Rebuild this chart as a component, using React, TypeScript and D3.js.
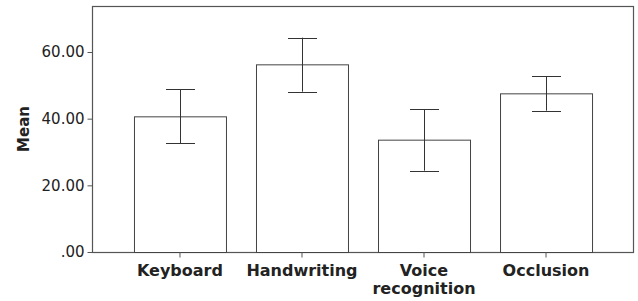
import React, { useEffect, useRef } from 'react';
import * as d3 from 'd3';

const categories = ['Keyboard', 'Handwriting', 'Voice recognition', 'Occlusion'];
const means = [40.7, 56.3, 33.7, 47.6];
const errLow = [32.7, 48.1, 24.4, 42.4];
const errHigh = [48.8, 64.3, 42.8, 52.8];
const yTicks = [0, 20, 40, 60];

const App = () => {
    const ref = useRef<SVGSVGElement>(null);

    const graph = () => {
        const svg = d3.select(ref.current);
        svg.selectAll('*').remove();

        const width = 638, height = 301;
        const margin = { top: 6, right: 4, bottom: 49, left: 92 };
        const plotBottom = height - margin.bottom;

        const x = d3.scaleBand()
            .domain(categories)
            .range([margin.left, width - margin.right])
            .paddingInner(0.246)
            .paddingOuter(0.344);

        const y = d3.scaleLinear()
            .domain([0, 73.8])
            .range([plotBottom, margin.top]);

        const lineColor = '#555';
        const textColor = '#222';

        // frame
        svg.append('rect')
            .attr('x', margin.left + 0.5)
            .attr('y', margin.top + 0.5)
            .attr('width', width - margin.right - margin.left - 1)
            .attr('height', plotBottom - margin.top)
            .attr('fill', 'white')
            .attr('stroke', lineColor)
            .attr('stroke-width', 1.2);

        const data = categories.map((c, i) => ({ c, m: means[i], lo: errLow[i], hi: errHigh[i] }));

        svg.selectAll('rect.bar')
            .data(data)
            .enter()
            .append('rect')
            .attr('class', 'bar')
            .attr('x', d => x(d.c)! + 0.5)
            .attr('y', d => y(d.m) + 0.5)
            .attr('width', x.bandwidth())
            .attr('height', d => plotBottom - y(d.m))
            .attr('fill', 'white')
            .attr('stroke', '#444')
            .attr('stroke-width', 1);

        const cap = 14.5;
        const eb = svg.append('g').attr('stroke', '#333').attr('stroke-width', 1);
        data.forEach(d => {
            const cx = Math.round(x(d.c)! + x.bandwidth() / 2) + 0.5;
            eb.append('line').attr('x1', cx).attr('x2', cx).attr('y1', y(d.hi)).attr('y2', y(d.lo));
            eb.append('line').attr('x1', cx - cap).attr('x2', cx + cap).attr('y1', Math.round(y(d.hi)) + 0.5).attr('y2', Math.round(y(d.hi)) + 0.5);
            eb.append('line').attr('x1', cx - cap).attr('x2', cx + cap).attr('y1', Math.round(y(d.lo)) + 0.5).attr('y2', Math.round(y(d.lo)) + 0.5);
        });

        // y axis
        const yAxis = svg.append('g')
            .attr('transform', `translate(${margin.left + 0.5},0)`)
            .call(d3.axisLeft(y).tickValues(yTicks).tickSize(5).tickPadding(3)
                .tickFormat(v => (+v === 0 ? '.00' : (+v).toFixed(2))));
        yAxis.select('.domain').remove();
        yAxis.selectAll('line').attr('stroke', lineColor);
        yAxis.selectAll('text')
            .style('font-family', 'DejaVu Sans')
            .style('font-size', '15px')
            .attr('fill', textColor);

        // x axis
        const xAxis = svg.append('g')
            .attr('transform', `translate(0,${plotBottom + 0.5})`)
            .call(d3.axisBottom(x).tickSize(5).tickFormat(() => ''));
        xAxis.select('.domain').remove();
        xAxis.selectAll('line').attr('stroke', lineColor);

        const labels = svg.append('g')
            .style('font-family', 'DejaVu Sans')
            .style('font-size', '16px')
            .style('font-weight', 'bold')
            .attr('fill', textColor)
            .attr('text-anchor', 'middle');
        categories.forEach(c => {
            const cx = x(c)! + x.bandwidth() / 2;
            const t = labels.append('text').attr('x', cx).attr('y', 276);
            c.split(' ').forEach((w, i) => {
                t.append('tspan').attr('x', cx).attr('dy', i === 0 ? 0 : 18).text(w);
            });
        });

        svg.append('text')
            .attr('transform', `translate(29,${(margin.top + plotBottom) / 2}) rotate(-90)`)
            .attr('text-anchor', 'middle')
            .style('font-family', 'DejaVu Sans')
            .style('font-size', '15px')
            .style('font-weight', 'bold')
            .attr('fill', textColor)
            .text('Mean');
    };

    useEffect(() => graph());

    return (
        <svg ref={ref} width={638} height={301}
            style={{ position: 'absolute', left: 0, top: 0, background: 'white' }}></svg>
    );
};

export default App;
